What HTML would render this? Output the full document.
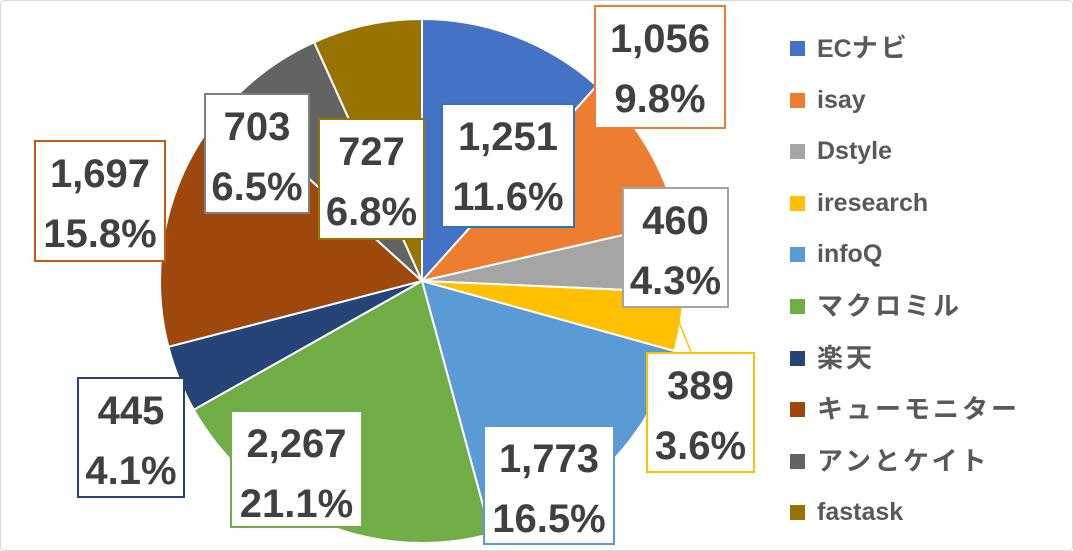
<!DOCTYPE html>
<html><head><meta charset="utf-8"><style>
html,body{margin:0;padding:0;background:#fff;}
body{width:1073px;height:551px;overflow:hidden;position:relative;font-family:"Liberation Sans","Noto Sans CJK JP",sans-serif;}
.frame{position:absolute;left:0;top:0;width:1071px;height:549px;border:1px solid #d9d9d9;border-radius:4px;}
.lab{position:absolute;background:#fff;border:2px solid;box-sizing:border-box;color:#404040;font-weight:bold;font-size:40px;line-height:60px;text-align:center;padding-top:2px;}
.leg{position:absolute;left:790px;font-size:25px;color:#595959;font-weight:bold;line-height:28px;}
.leg i{position:absolute;left:0;top:7px;width:15px;height:15px;}
.leg span{position:absolute;left:27px;top:0;white-space:nowrap;}
.leg span.j{letter-spacing:3px;font-size:26px;}
</style></head><body>
<div class="frame"></div>
<svg id="pie" width="1073" height="551" style="position:absolute;left:0;top:0"></svg>
<div class="lab" style="left:441px;top:103px;width:134px;height:125px;border-color:#2E75B6">1,251<br>11.6%</div>
<div class="lab" style="left:594px;top:5px;width:132px;height:124px;border-color:#ED7D31">1,056<br>9.8%</div>
<div class="lab" style="left:622px;top:187px;width:107px;height:121px;border-color:#A5A5A5">460<br>4.3%</div>
<div class="lab" style="left:646px;top:352px;width:109px;height:121px;border-color:#FFC000">389<br>3.6%</div>
<div class="lab" style="left:483px;top:425px;width:132px;height:120px;border-color:#5B9BD5">1,773<br>16.5%</div>
<div class="lab" style="left:230px;top:410px;width:133px;height:118px;border-color:#70AD47">2,267<br>21.1%</div>
<div class="lab" style="left:77px;top:377px;width:108px;height:121px;border-color:#264478">445<br>4.1%</div>
<div class="lab" style="left:34px;top:140px;width:132px;height:122px;border-color:#C55A11">1,697<br>15.8%</div>
<div class="lab" style="left:204px;top:93px;width:106px;height:121px;border-color:#7F7F7F">703<br>6.5%</div>
<div class="lab" style="left:318px;top:118px;width:107px;height:122px;border-color:#997300">727<br>6.8%</div>
<div id="legend"></div>
<script>
var vals=[1251,1056,460,389,1773,2267,445,1697,703,727];
var cols=["#4472C4","#ED7D31","#A5A5A5","#FFC000","#5B9BD5","#70AD47","#264478","#9E480E","#636363","#997300"];
var names=["ECナビ","isay","Dstyle","iresearch","infoQ","マクロミル","楽天","キューモニター","アンとケイト","fastask"];
var jp=[false,false,false,false,false,true,true,true,true,false];
var cx=422,cy=281,r=262,tot=vals.reduce((a,b)=>a+b,0),a=0,s="";
for(var i=0;i<vals.length;i++){var a2=a+vals[i]/tot*2*Math.PI;
var x1=cx+r*Math.sin(a),y1=cy-r*Math.cos(a),x2=cx+r*Math.sin(a2),y2=cy-r*Math.cos(a2);
s+='<path d="M'+cx+','+cy+' L'+x1+','+y1+' A'+r+','+r+' 0 '+((a2-a)>Math.PI?1:0)+' 1 '+x2+','+y2+' Z" fill="'+cols[i]+'" stroke="#fff" stroke-width="2"/>';a=a2;}
s+='<line x1="679" y1="322" x2="691" y2="352" stroke="#FFC000" stroke-width="1.5"/>';
document.getElementById('pie').innerHTML=s;
var L="";for(var i=0;i<10;i++){
var nm=names[i];
if(i==0)nm='EC<span style="letter-spacing:3px;font-size:26px;position:static">ナビ</span>';
L+='<div class="leg" style="top:'+(34+i*51.6)+'px"><i style="background:'+cols[i]+'"></i><span'+(jp[i]?' class="j"':'')+'>'+nm+'</span></div>';}
document.getElementById('legend').innerHTML=L;
</script>
</body></html>
